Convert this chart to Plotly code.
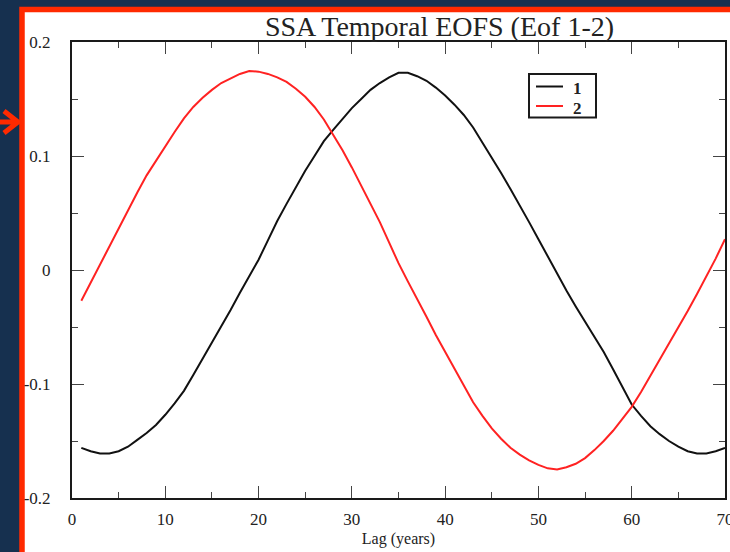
import plotly.graph_objects as go

# Lag axis (years) and the two SSA temporal EOFs
lag = list(range(1, 71))

eof1 = [
    -0.156, -0.159, -0.161, -0.161, -0.159, -0.155, -0.149, -0.143, -0.136, -0.127,
    -0.117, -0.106, -0.092, -0.078, -0.064, -0.050, -0.035, -0.020, -0.005, 0.009,
    0.026, 0.043, 0.058, 0.073, 0.087, 0.100, 0.113, 0.123, 0.133, 0.142,
    0.150, 0.158, 0.164, 0.169, 0.173, 0.173, 0.170, 0.166, 0.160, 0.153,
    0.145, 0.136, 0.125, 0.112, 0.098, 0.085, 0.071, 0.057, 0.042, 0.027,
    0.012, -0.004, -0.018, -0.032, -0.045, -0.058, -0.072, -0.087, -0.103, -0.118,
    -0.128, -0.137, -0.144, -0.150, -0.155, -0.159, -0.161, -0.161, -0.159, -0.156,
]

eof2 = [
    -0.027, -0.011, 0.004, 0.020, 0.036, 0.053, 0.068, 0.083, 0.096, 0.109,
    0.121, 0.133, 0.143, 0.151, 0.158, 0.164, 0.168, 0.172, 0.1745, 0.174,
    0.172, 0.169, 0.165, 0.159, 0.152, 0.143, 0.132, 0.119, 0.105, 0.090,
    0.074, 0.058, 0.042, 0.024, 0.006, -0.010, -0.025, -0.041, -0.057, -0.072,
    -0.087, -0.102, -0.116, -0.128, -0.139, -0.148, -0.156, -0.162, -0.167, -0.171,
    -0.174, -0.175, -0.173, -0.170, -0.165, -0.158, -0.150, -0.141, -0.131, -0.120,
    -0.107, -0.093, -0.079, -0.065, -0.050, -0.036, -0.021, -0.006, 0.010, 0.027,
]

series_names = ["1", "2"]
series_colors = ["#111111", "#ff2222"]

x_ticks = [0, 10, 20, 30, 40, 50, 60, 70]
y_ticks = [-0.2, -0.1, 0, 0.1, 0.2]
y_tick_text = ["-0.2", "-0.1", "0", "0.1", "0.2"]

W, H = 730, 552
ML, MR, MT, MB = 72, 5, 42, 54
PW = W - ML - MR
PH = H - MT - MB
NAVY = "#16304f"
FRAME_RED = "#ff2a00"
INK = "#222222"
SERIF = "Liberation Serif, Times New Roman, serif"


def px_x(p):
    """Pixel column -> paper x."""
    return (p - ML) / PW


def px_y(p):
    """Pixel row -> paper y."""
    return (H - MB - p) / PH


fig = go.Figure()
for name, ys, col in zip(series_names, [eof1, eof2], series_colors):
    fig.add_trace(go.Scatter(
        x=lag, y=ys, mode="lines", name=name,
        line=dict(color=col, width=2),
        showlegend=False,
    ))

axis_common = dict(
    showline=True, linecolor="#1a1a1a", linewidth=2, mirror="allticks",
    ticks="inside", ticklen=12, tickwidth=1.2, tickcolor="#444444",
    showgrid=False, zeroline=False, automargin=False,
    tickfont=dict(family=SERIF, size=17, color=INK),
)

fig.update_xaxes(
    range=[0, 70], tickvals=x_ticks,
    minor=dict(ticks="inside", ticklen=6, dtick=5, tickwidth=1.2, tickcolor="#444444"),
    ticklabelstandoff=5, ticklabeloverflow="allow",
    title=dict(text="Lag (years)", font=dict(family=SERIF, size=16, color=INK), standoff=4),
    **axis_common,
)
fig.update_yaxes(
    range=[-0.2, 0.2], tickvals=y_ticks, ticktext=y_tick_text,
    minor=dict(ticks="inside", ticklen=6, dtick=0.05, tickwidth=1.2, tickcolor="#444444"),
    ticklabelstandoff=16,
    **axis_common,
)

shapes = [
    # white page with the red frame along its top and left edges
    dict(type="rect", xref="paper", yref="paper", layer="below",
         x0=px_x(22), x1=px_x(W + 20), y0=px_y(H + 20), y1=px_y(9.5),
         fillcolor="white", line=dict(color=FRAME_RED, width=5.5)),
    # pointer arrow on the left margin
    dict(type="path", xref="paper", yref="paper", layer="above",
         path=(f"M {px_x(-2)},{px_y(122)} L {px_x(17)},{px_y(122)} "
               f"M {px_x(4)},{px_y(111)} L {px_x(18)},{px_y(122)} L {px_x(4)},{px_y(133)}"),
         line=dict(color=FRAME_RED, width=5)),
    # legend box
    dict(type="rect", xref="paper", yref="paper", layer="above",
         x0=px_x(529), x1=px_x(596), y0=px_y(117.5), y1=px_y(74),
         fillcolor="white", line=dict(color="#1a1a1a", width=2)),
]

annotations = []
legend_rows = [86.5, 106]
for name, col, row in zip(series_names, series_colors, legend_rows):
    shapes.append(dict(
        type="line", xref="paper", yref="paper", layer="above",
        x0=px_x(536), x1=px_x(563), y0=px_y(row), y1=px_y(row),
        line=dict(color=col, width=2),
    ))
    annotations.append(dict(
        text=f"<b>{name}</b>", xref="paper", yref="paper", showarrow=False,
        x=px_x(572), y=px_y(row + 2), xanchor="left", yanchor="middle",
        borderpad=0, font=dict(family=SERIF, size=17, color=INK),
    ))

fig.update_layout(
    width=W, height=H,
    margin=dict(l=ML, r=MR, t=MT, b=MB, pad=0, autoexpand=False),
    paper_bgcolor=NAVY, plot_bgcolor="white",
    shapes=shapes,
    annotations=annotations,
    title=dict(
        text="SSA Temporal EOFS (Eof 1-2)",
        font=dict(family=SERIF, size=28, color=INK),
        x=px_x(439.5), xref="paper", xanchor="center",
        y=1, yref="paper", yanchor="bottom", pad=dict(b=6, t=0),
    ),
    showlegend=False,
)

fig.write_html("out.html")
